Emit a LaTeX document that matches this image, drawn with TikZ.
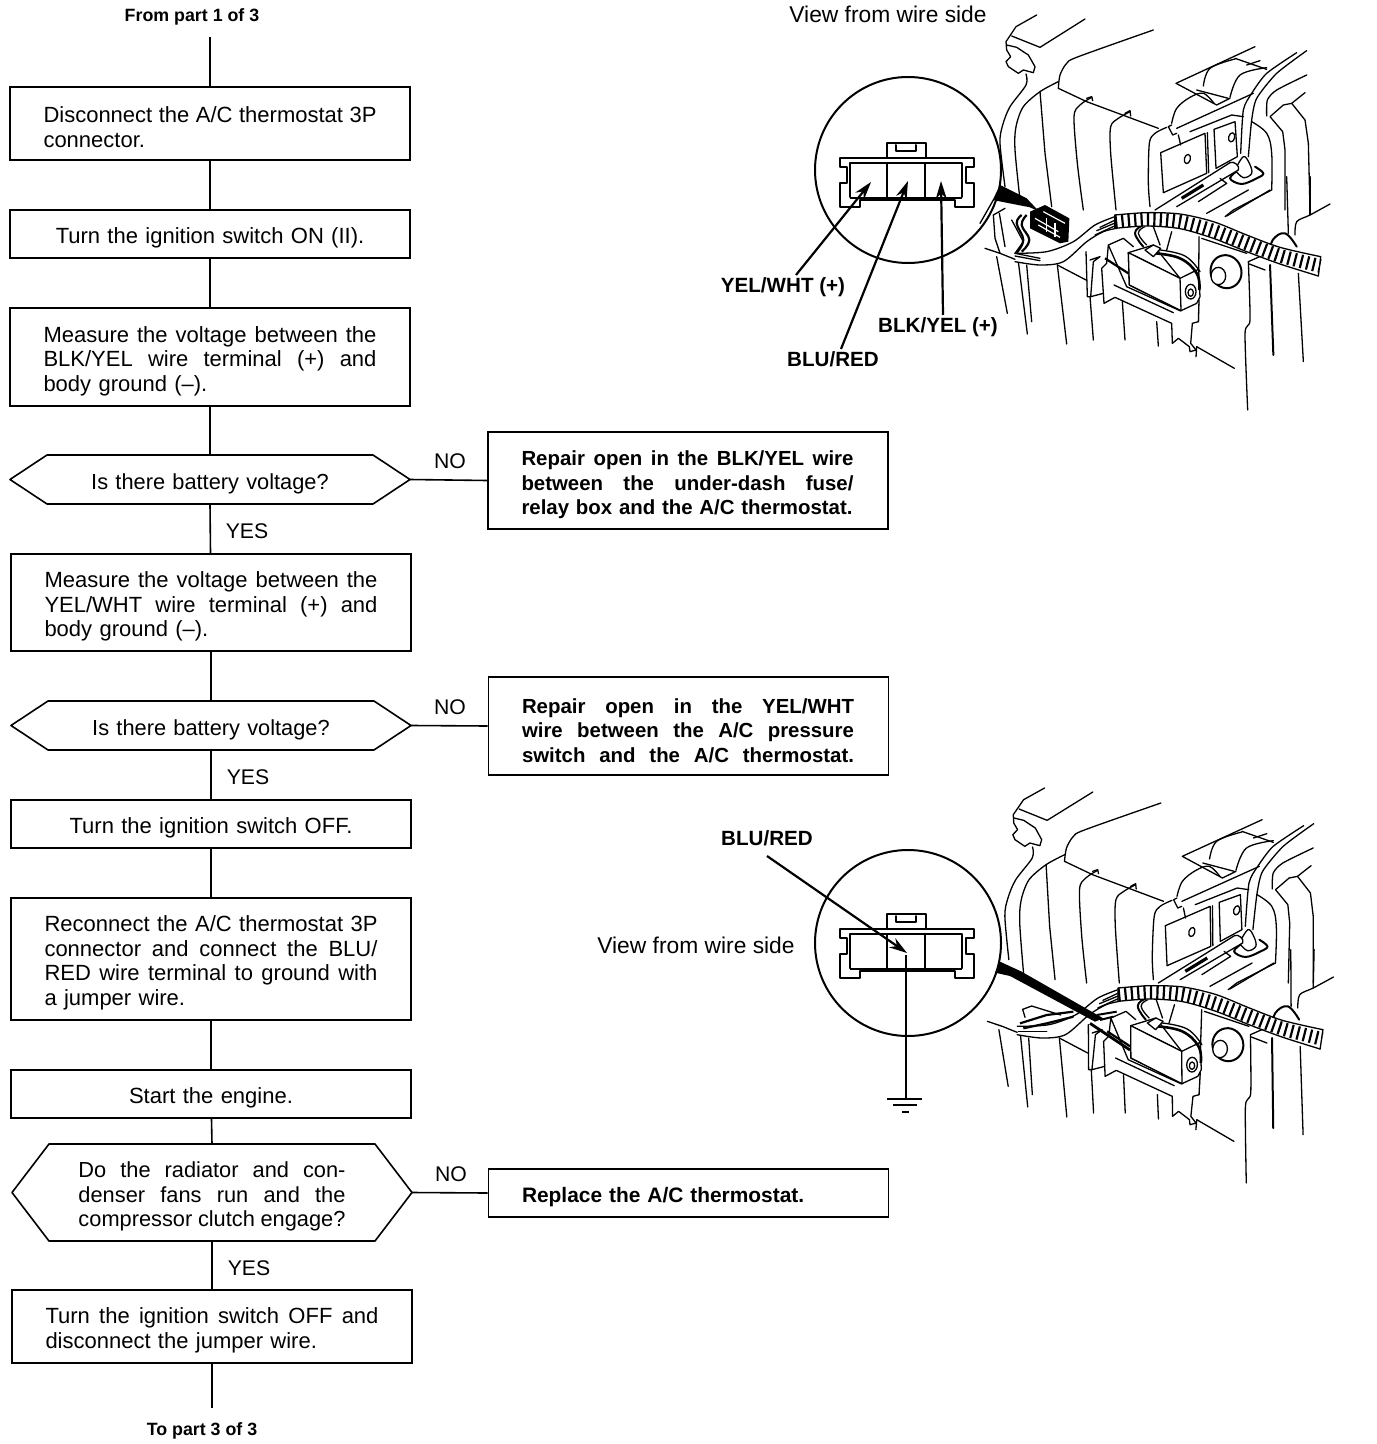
\documentclass[tikz,border=0pt]{standalone}
\usepackage{fontspec}
\setmainfont{Liberation Sans}
\usetikzlibrary{arrows.meta}
\newcommand\jl[1]{\leavevmode\hbox to 166.5pt{\spaceskip=0pt \xspaceskip=0pt #1}}
\newcommand\jn[1]{\leavevmode\hbox to 166pt{\spaceskip=0pt \xspaceskip=0pt #1}}
\newcommand\jh[1]{\leavevmode\hbox to 133.5pt{\spaceskip=0pt \xspaceskip=0pt #1}}
\newcommand\hexa[1]{\draw[flowline] (#1.west)--([xshift=18.5pt]#1.north west)--([xshift=-18.5pt]#1.north east)--(#1.east)--([xshift=-18.5pt]#1.south east)--([xshift=18.5pt]#1.south west)--cycle;}
\tikzset{
  flowline/.style={line width=0.8pt,line join=round},
  basebox/.style={draw,line width=0.8pt,inner ysep=0pt,inner xsep=16.75pt,text width=166.5pt,minimum width=200pt,
     font=\fontsize{11}{12.25}\selectfont,execute at begin node={\leavevmode\rule{0pt}{11.8pt}}},
  stepbox/.style={basebox,align=left},
  midbox/.style={basebox,align=center},
  nobox/.style={basebox,align=left,font=\fontsize{10.2}{12.25}\bfseries\selectfont},
  hexbox/.style={basebox,draw=none,outer sep=0pt,align=center,font=\fontsize{10.9}{12.25}\selectfont},
  lab/.style={font=\fontsize{10.6}{12.25}\selectfont,inner sep=0pt,text depth=0pt},
  viewlab/.style={font=\fontsize{11.4}{12.25}\selectfont,inner sep=0pt,text depth=0pt},
  blab/.style={font=\fontsize{10.3}{12.25}\bfseries\selectfont,inner sep=0pt,text depth=0pt},
  smallb/.style={font=\fontsize{8.9}{11}\bfseries\selectfont,inner sep=0pt,text depth=0pt},
  ill/.style={line width=0.65pt,line join=round,line cap=round},
  illb/.style={line width=1pt,line join=round,line cap=round},
  callout/.style={line width=1.1pt,-{Stealth[length=9pt,width=5.5pt]}},
}
% common drawing of the evaporator; coordinates are 3x pixels
\newcommand\illbody{%
 % hook
 \draw[ill] (140,15)--(78,50)--(48,95)--(50,120)--(62,140)--(48,155)--(55,170)--(85,190)--(100,180)--(130,188)--(135,170)--(115,135)--(80,112)--(50,105);
 \draw[ill] (65,78)--(150,112)--(285,27);
 \draw[ill] plot[smooth,tension=.5] coordinates {(490,60)(265,140)(230,160)(210,195)(205,235)};
 \draw[ill] (205,235)--(290,275)--(505,355);
 \draw[ill] plot[smooth,tension=.5] coordinates {(108,192)(108,225)(60,290)(38,345)(30,400)(45,530)};
 \draw[ill] plot[smooth,tension=.5] coordinates {(205,215)(150,245)(100,290)(78,350)(75,420)(90,570)};
 \draw[ill] (150,245)--(165,430)--(185,590);
 \draw[ill] plot[smooth,tension=.5] coordinates {(305,262)(270,285)(252,320)(262,460)(280,600)};
 \draw[ill] (290,265)--(305,260)--(308,272);
 \draw[ill] plot[smooth,tension=.5] coordinates {(420,305)(385,325)(362,350)(362,430)(378,600)};
 \draw[ill] (405,310)--(420,302)--(422,318);
 \draw[ill] plot[smooth,tension=.5] coordinates {(530,352)(495,370)(478,400)(475,520)(480,590)};
 \draw[ill] (545,345)--(535,350)--(548,375)--(560,370);
 % plates
 \draw[ill] (512,428)--(645,370)--(650,490)--(520,548)--cycle;
 \draw[ill] (672,358)--(735,335)--(742,440)--(678,475)--cycle;
 \draw[ill] (652,368)--(656,488);
 \draw[ill,rotate around={-15:(592,447)}] (592,447) ellipse [x radius=9,y radius=14];
 \draw[ill,rotate around={-15:(725,382)}] (725,382) ellipse [x radius=9,y radius=14];
 \draw[ill] (560,355)--(790,250);
 \draw[ill] (600,365)--(725,315)--(760,320);
 \draw[ill] (565,375)--(572,405);
 % top trapeze
 \draw[ill] (795,110)--(558,220)--(680,285)--(720,265);
 \draw[ill] (620,240)--(715,265);
 \draw[ill] (735,145)--(830,178);
 \draw[ill] (810,152)--(770,165);
 \draw[ill] plot[smooth,tension=.6] coordinates {(640,228)(660,175)(735,147)};
 \draw[ill] plot[smooth,tension=.6] coordinates {(720,262)(750,195)(830,173)};
 \draw[ill] plot[smooth,tension=.6] coordinates {(545,340)(560,295)(600,262)(640,250)(672,280)};
 % pipes going up right
 \draw[ill] plot[smooth,tension=.4] coordinates {(920,128)(830,190)(785,250)(760,300)(752,430)};
 \draw[ill] plot[smooth,tension=.4] coordinates {(950,122)(860,190)(800,265)(785,330)(775,440)};
 \draw[ill] plot[smooth,tension=.4] coordinates {(950,195)(860,240)(832,270)(830,318)};
 \draw[ill] (945,248)--(905,280)--(880,285)--(840,320)--(878,365)--(885,420)--(885,600);
 \draw[ill] (905,280)--(945,330)--(955,400)--(960,600);
 \draw[ill] plot[smooth,tension=.6] coordinates {(785,335)(830,370)(845,430)(845,540)};
 \draw[ill] (845,540)--(730,600)--(705,620);
 % clip on the pipe
 \draw[illb,fill=white] plot[smooth,tension=.6] coordinates {(745,480)(720,505)(755,522)(800,505)(820,490)(795,470)};
 \draw[ill,fill=white] plot[smooth,tension=.6] coordinates {(735,480)(760,440)(778,460)(785,490)(760,503)(735,480)};
 \draw[ill,fill=white] (495,600)--(720,458) to[out=30,in=60] (745,480)--(560,590);
 \draw[line width=1.6pt] (640,525)--(575,565);
 \draw[ill] (690,505)--(710,520)--(625,575);
 \begin{scope}[shift={(-30,540)}]
  % lower vertical lines
  \draw[ill] (50,200)--(82,370);
  \draw[ill] (115,215)--(142,432);
  \draw[ill] (140,225)--(155,395);
  \draw[ill] (232,225)--(260,462);
  \draw[ill] (330,320)--(340,450);
  \draw[ill] (427,335)--(435,450);
  \draw[ill] (530,395)--(535,468);
  \draw[ill] (650,470)--(648,500);
  \draw[ill] (650,470)--(763,535);
  \draw[ill] (232,225)--(318,270);
  \draw[ill] plot[smooth,tension=.4] coordinates {(805,215)(810,390)(795,430)(803,660)};
  \draw[ill] (805,215)--(850,195);
  \draw[ill] (808,222)--(855,240);
  \draw[ill] (665,145)--(800,190);
  \draw[illb] (870,225)--(880,495);
  \draw[ill] (955,250)--(970,515);
  \draw[ill] (657,140)--(655,395);
  \draw[ill] (920,-40)--(925,130);
  \draw[ill] (990,-40)--(990,75);
  \draw[ill] plot[smooth,tension=.5] coordinates {(945,135)(950,95)(990,75)(1050,42)};
  \draw[ill] (680,70)--(805,0);
  \draw[ill] (740,78)--(870,0);
  % bolt
  \draw[illb,fill=white,rotate around={20:(738,245)}] (738,245) ellipse [x radius=46,y radius=50];
  \draw[ill,fill=white] (715,258) ellipse [x radius=22,y radius=26];
  % clamp
  \draw[illb] plot[smooth,tension=.7] coordinates {(870,190)(878,150)(915,130)(950,170)};
  % bracket below relay
  \draw[ill] (330,210)--(360,200)--(340,215)--(332,320)--(370,310);
  \draw[ill] (318,185)--(322,320)--(332,320);
  \draw[ill,fill=white] (385,165)--(380,220)--(365,235)--(372,340)--(405,322)--(575,400)--(577,460)--(595,445)--(628,470)--(630,485)--(648,480)--(632,460)--(637,400)--(655,395)--(657,330)--(600,362)--(440,290)--cycle;
  \draw[ill] (402,285)--(580,368);
  \draw[ill] (385,165)--(430,145)--(460,170);
  % wire loop behind relay
  \draw[illb] plot[smooth,tension=.8] coordinates {(485,108)(465,130)(490,170)};
  \draw[ill] plot[smooth,tension=.8] coordinates {(495,110)(475,130)(500,165)};
  \draw[ill] (520,110)--(540,165);
  \draw[ill] (575,125)--(560,180);
  % relay
  \draw[ill,fill=white] (445,188)--(520,165)--(600,265)--(603,362)--(448,285)--cycle;
  \draw[ill,fill=white] (445,188)--(600,265)--(655,238)--(660,320)--(650,340)--(603,362)--cycle;
  \draw[ill,fill=white] (445,188)--(448,285)--(603,362)--(600,265)--cycle;
  \draw[ill,fill=white] (632,305) ellipse [x radius=16,y radius=22];
  \draw[ill] (632,308) ellipse [x radius=8,y radius=11];
  \draw[line width=1.3pt] plot[smooth,tension=.7] coordinates {(525,190)(600,205)(650,250)(658,300)};
  \draw[ill] plot[smooth,tension=.7] coordinates {(540,180)(615,198)(660,245)};
  \draw[ill,fill=white] (495,180)--(520,165)--(542,175)--(520,200)--cycle;
  \draw[line width=1.1pt] (375,205)--(445,250);
  % wire ribbon
  \fill[white] plot[smooth,tension=.5] coordinates {(105,190)(200,185)(280,155)(345,105)(410,78)} -- plot[smooth,tension=.5] coordinates {(410,115)(370,125)(320,155)(250,215)(180,225)(105,215)} -- cycle;
  \draw[ill] plot[smooth,tension=.5] coordinates {(105,190)(200,185)(280,155)(345,105)(410,78)};
  \draw[ill] plot[smooth,tension=.5] coordinates {(410,115)(370,125)(320,155)(250,215)(180,225)(105,215)};
  \draw[ill] (15,175)--(60,190)--(105,208);
  \draw[ill] (360,112)--(410,88); \draw[ill] (350,122)--(410,97); \draw[ill] (345,135)--(410,105);
  % corrugated harness
  \draw[white,line width=7pt] plot[smooth,tension=.5] coordinates {(405,95)(500,88)(600,95)(700,122)(800,160)(900,197)(1020,228)};
  \draw[line width=6.8pt,dash pattern=on 1.1pt off 2.1pt] plot[smooth,tension=.5] coordinates {(405,95)(500,88)(600,95)(700,122)(800,160)(900,197)(1020,228)};
  \draw[ill] plot[smooth,tension=.5] coordinates {(405,75)(500,68)(600,72)(700,95)(800,135)(900,172)(1022,200)};
  \draw[ill] plot[smooth,tension=.5] coordinates {(405,115)(500,108)(600,116)(700,145)(800,185)(900,222)(1015,258)};
  \draw[ill] (1022,200)--(1015,258);
  \draw[ill] (405,75)--(405,115);
 \end{scope}
}
% inset connector outline
\newcommand\connector[2]{%
 \draw[illb] (840,158)--(974,158)--(974,167)--(966,167)--(966,183)--(974,183)--(974,207)--(955,207)--(955,200)--(860,200)--(860,207)--(840,207)--(840,183)--(847,183)--(847,167)--(840,167)--cycle;
 \draw[illb] (850,197)--(850,163)--(962,163)--(962,197);
 \draw[line width=1.4pt] (850,198)--(962,198);
 \draw[#1] (887,163)--(887,198);
 \draw[#2] (925,163)--(925,198);
 \draw[illb] (887,158)--(887,143)--(926,143)--(926,158);
 \draw[illb] (896,145)--(896,151)--(916,151)--(916,145);
}
\begin{document}
\begin{tikzpicture}[x=0.5pt,y=-0.5pt]
\useasboundingbox (0,0) rectangle (1376,1444);
% ---------- flowchart
\node[smallb] (from) at (192,15) {From part 1 of 3};
\coordinate (startc) at (210,37);
\node[stepbox,minimum height=36.5pt] (b1) at (210,123.5) {\jl{Disconnect the A/C thermostat 3P}\\connector.};
\node[midbox,minimum height=24pt] (b2) at (210,234) {Turn the ignition switch ON (II).};
\node[stepbox,minimum height=49pt] (b3) at (210,357) {\jl{Measure the voltage between the}\\\jl{BLK/YEL wire terminal (+) and}\\body ground (–).};
\node[hexbox,minimum height=24.5pt] (d1) at (210,479.5) {Is there battery voltage?};
\hexa{d1}
\node[nobox,minimum height=48.5pt] (n1) at (688,480.5) {\jn{Repair open in the BLK/YEL wire}\\\jn{between the under-dash fuse/}\\relay box and the A/C thermostat.};
\node[stepbox,minimum height=48.5pt] (b4) at (211,602.5) {\jl{Measure the voltage between the}\\\jl{YEL/WHT wire terminal (+) and}\\body ground (–).};
\node[hexbox,minimum height=24.5pt] (d2) at (211,725.5) {Is there battery voltage?};
\hexa{d2}
\node[nobox,minimum height=49pt] (n2) at (688.5,726) {\jn{Repair open in the YEL/WHT}\\\jn{wire between the A/C pressure}\\\jn{switch and the A/C thermostat.}};
\node[midbox,minimum height=24pt] (b5) at (211,824) {Turn the ignition switch OFF.};
\node[stepbox,minimum height=61pt] (b6) at (211,959) {\jl{Reconnect the A/C thermostat 3P}\\\jl{connector and connect the BLU/}\\\jl{RED wire terminal to ground with}\\a jumper wire.};
\node[midbox,minimum height=24pt] (b7) at (211,1094) {Start the engine.};
\node[hexbox,minimum height=48.5pt] (d3) at (212,1192.5) {\jh{Do the radiator and con-}\\\jh{denser fans run and the}\\\jh{compressor clutch engage?}};
\hexa{d3}
\node[nobox,minimum height=24pt,font=\fontsize{10.45}{12.25}\bfseries\selectfont] (n3) at (688.5,1193) {Replace the A/C thermostat.};
\node[stepbox,minimum height=36.5pt] (b8) at (212,1326.5) {\jl{Turn the ignition switch OFF and}\\disconnect the jumper wire.};
\coordinate (endc) at (212,1408);
\node[smallb] (to) at (202,1429) {To part 3 of 3};
\draw[flowline] (startc)--(b1.north);
\draw[flowline] (b1)--(b2);
\draw[flowline] (b2)--(b3);
\draw[flowline] (b3)--(d1.north);
\draw[flowline] (d1.south)--(b4);
\draw[flowline] (b4)--(d2.north);
\draw[flowline] (d2.south)--(b5);
\draw[flowline] (b5)--(b6);
\draw[flowline] (b6)--(b7);
\draw[flowline] (b7)--(d3.north);
\draw[flowline] (d3.south)--(b8);
\draw[flowline] (b8.south)--(endc);
\draw[flowline] (d1.east)--(n1.west);
\draw[flowline] (d2.east)--(n2.west);
\draw[flowline] (d3.east)--(n3.west);
\node[lab] (no1) at (450,461) {NO};
\node[lab] (no2) at (450,707) {NO};
\node[lab] (no3) at (451,1174) {NO};
\node[lab] (yes1) at (247,531) {YES};
\node[lab] (yes2) at (248,777) {YES};
\node[lab] (yes3) at (249,1268) {YES};
% ---------- upper illustration
\begin{scope}[shift={(990,10)},x=0.16667pt,y=-0.16667pt]
 \illbody
 \begin{scope}[shift={(-30,540)}]
  % wires and connector
  \fill (60,-15)--(38,30)--(150,52)--(178,65)--(140,25)--cycle;
  \draw[ill] (40,30)--(0,100);
  \draw[ill] (40,75)--(45,145)--(60,190);
  \draw[ill] (58,70)--(75,170);
  \draw[ill] (75,55)--(40,75);
  \draw[line width=1.1pt] plot[smooth,tension=.7] coordinates {(125,75)(110,100)(130,150)(110,188)};
  \draw[line width=1.1pt] plot[smooth,tension=.7] coordinates {(140,75)(125,105)(148,150)(125,185)};
  \draw[ill] (95,90)--(130,155)--(105,190);
  \draw[ill] (105,190)--(180,205); \draw[ill] (105,198)--(180,212);
  \fill (150,65)--(195,45)--(268,85)--(265,155)--(240,160)--(150,115)--cycle;
  \draw[white,line width=.6pt] (165,85)--(235,125);
  \draw[white,line width=.6pt] (175,105)--(240,142);
  \draw[white,line width=.6pt] (190,65)--(255,100);
  \draw[white,line width=.6pt] (200,85)--(200,125);
  \draw[white,line width=.6pt] (225,100)--(225,140);
 \end{scope}
\end{scope}
\draw[line width=1pt] (908,170) circle [radius=93];
\connector{illb}{ill}
\node[viewlab] (v1) at (888,14) {View from wire side};
\node[blab] (ly) at (783,285) {YEL/WHT (+)};
\node[blab] (lb) at (833,359) {BLU/RED};
\node[blab] (lk) at (938,325) {BLK/YEL (+)};
\coordinate (ys) at (796,275); \coordinate (yt) at (871,182);
\coordinate (bs) at (841,349); \coordinate (bt) at (908,181);
\coordinate (ks) at (943,315); \coordinate (kt) at (941,181);
\draw[callout] (ys)--(yt);
\draw[callout] (bs)--(bt);
\draw[callout] (ks)--(kt);
% ---------- lower illustration
\begin{scope}[shift={(998,783)},xslant=0.0235,x=0.16667pt,y=-0.16667pt]
 \illbody
\end{scope}
\begin{scope}[shift={(990,960)},x=0.16667pt,y=-0.16667pt]
 \fill (30,5)--(15,38)--(60,48)--(315,185)--(340,175)--(200,95)--(95,35)--cycle;
 \draw[ill] (98,148)--(125,138)--(212,165);
 \draw[ill] (98,148)--(105,172);
 \draw[line width=1.1pt] (90,190)--(170,165)--(250,155);
 \draw[line width=1.1pt] (100,205)--(170,190)--(250,170);
 \draw[ill] (85,215)--(170,215);
 \draw[line width=1.4pt] (300,190)--(420,270);
 \draw[line width=1pt] (320,165)--(380,155);
 \draw[line width=1pt] (330,180)--(370,170);
\end{scope}
\draw[line width=1pt] (908,943) circle [radius=93];
\begin{scope}[shift={(0,771)}]
 \connector{ill}{illb}
\end{scope}
\node[blab] (lb2) at (767,838) {BLU/RED};
\node[viewlab] (v2) at (696,945) {View from wire side};
\coordinate (as) at (767,856); \coordinate (at2) at (907,953);
\draw[callout] (as)--(at2);
\coordinate (gs) at (906,955); \coordinate (gg) at (906,1099);
\draw[line width=0.8pt] (gs)--(gg);
\draw[line width=0.9pt] (887,1099)--(922,1099);
\draw[line width=0.9pt] (893,1105)--(917,1105);
\draw[line width=0.9pt] (902,1112)--(909,1112);
\end{tikzpicture}
\end{document}
